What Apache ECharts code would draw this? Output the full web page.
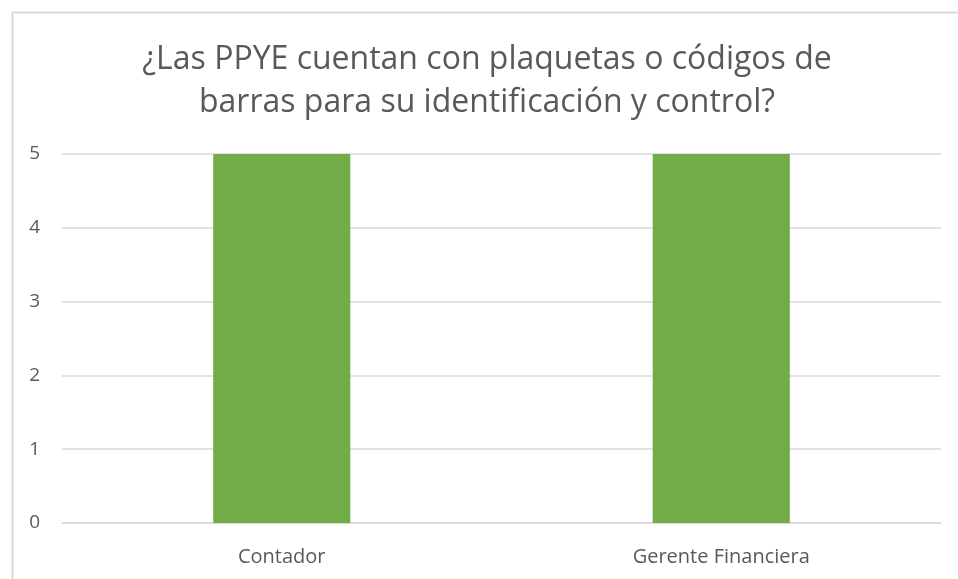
<!DOCTYPE html>
<html><head><meta charset="utf-8">
<script src="https://cdn.jsdelivr.net/npm/echarts@6/dist/echarts.min.js"></script>
<style>html,body{margin:0;padding:0;background:#fff}#c{width:958px;height:579px}</style>
</head><body><div id="c"></div>
<script>
const titleText = '¿Las PPYE cuentan con plaquetas o códigos de\nbarras para su identificación y control?';
const categories = ['Contador', 'Gerente Financiera'];
const values = [5, 5];
const yTicks = [0, 1, 2, 3, 4, 5];

const chart = echarts.init(document.getElementById('c'), null, {renderer: 'canvas'});
chart.setOption({
  animation: false,
  backgroundColor: '#fff',
  graphic: [{
    type: 'rect', left: 10, top: 10,
    shape: {width: 960, height: 590},
    style: {fill: 'none', stroke: '#d9d9d9', lineWidth: 2},
    silent: true
  }, {
    type: 'text', x: 487, y: 38,
    style: {
      text: titleText, textAlign: 'center', textVerticalAlign: 'top',
      font: 'normal 32px "Open Sans"', lineHeight: 43, fill: '#595959'
    },
    silent: true
  }],
  grid: {left: 62, right: 17, top: 154, bottom: 56},
  xAxis: {
    type: 'category', data: categories,
    axisLine: {lineStyle: {color: '#d9d9d9', width: 1.5}},
    axisTick: {show: false},
    axisLabel: {fontFamily: 'Open Sans', fontSize: 20, color: '#595959', margin: 24}
  },
  yAxis: {
    type: 'value', min: yTicks[0], max: yTicks[yTicks.length - 1], interval: 1,
    axisLine: {show: false}, axisTick: {show: false},
    splitLine: {lineStyle: {color: '#d9d9d9', width: 1.5}},
    axisLabel: {fontFamily: 'Open Sans', fontSize: 19, color: '#595959', margin: 22}
  },
  series: [{
    type: 'bar', data: values, barWidth: '31.2%',
    itemStyle: {color: '#70ad47'}
  }]
});
</script></body></html>
